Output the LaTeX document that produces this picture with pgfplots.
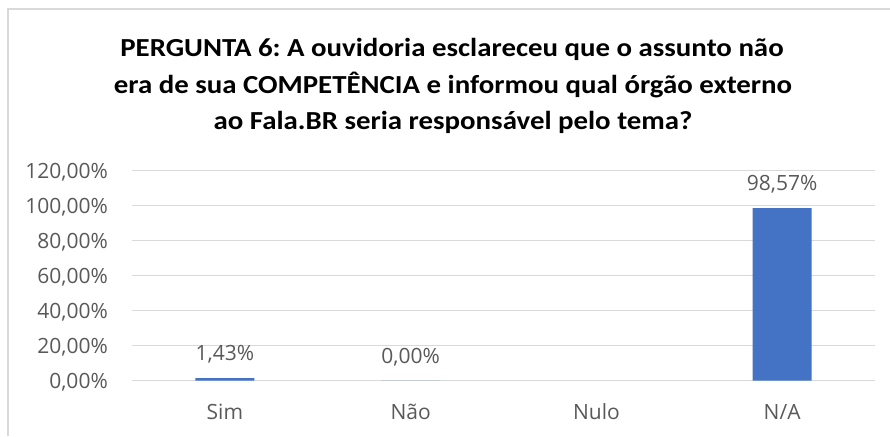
\documentclass[border=0pt]{standalone}
\usepackage{fontspec}
\setmainfont{Open Sans}
\newfontfamily\titlefont{Carlito}[FakeStretch=1.11]
\usepackage{pgfplots}
\pgfplotsset{compat=1.18}
\definecolor{barblue}{HTML}{4472C4}
\definecolor{gridgray}{HTML}{D9D9D9}
\definecolor{txtgray}{HTML}{595959}
\frenchspacing
\begin{document}
\begin{tikzpicture}[x=1pt,y=1pt]
\path[use as bounding box] (0,0) rectangle (890,436);
\draw[gridgray, line width=2pt] (8,0) -- (8,426.5) -- (891,426.5);
\node[anchor=base, font=\titlefont\fontsize{26}{30}\selectfont\bfseries, inner sep=0] at (452,379.3) {PERGUNTA 6: A ouvidoria esclareceu que o assunto não};
\node[anchor=base, font=\titlefont\fontsize{26}{30}\selectfont\bfseries, inner sep=0] at (453,342.7) {era de sua COMPETÊNCIA e informou qual órgão externo};
\node[anchor=base, font=\titlefont\fontsize{26}{30}\selectfont\bfseries, inner sep=0] at (453,306) {ao Fala.BR seria responsável pelo tema?};
\begin{axis}[
  at={(132pt,55.3pt)}, anchor=south west,
  scale only axis, width=743pt, height=210pt,
  xmin=-0.5, xmax=3.5, ymin=0, ymax=120,
  ytick={0,20,...,120},
  xtick={0,1,2,3},
  xticklabels={Sim,Não,Nulo,N/A},
  axis line style={draw=none},
  major tick length=0pt,
  ymajorgrids, grid style={gridgray, line width=1.3pt},
  /pgf/number format/assume math mode=true,
  yticklabel={\pgfmathprintnumber[fixed,fixed zerofill,precision=2,use comma]{\tick}\%},
  yticklabel style={anchor=base east, inner sep=0pt, xshift=-24pt, yshift=-7.6pt, font=\fontsize{21}{25}\selectfont, text=txtgray},
  xticklabel style={anchor=base, inner sep=0pt, yshift=-38.6pt, font=\fontsize{21}{25}\selectfont, text=txtgray},
  ybar, bar width=59pt,
  nodes near coords={\pgfmathprintnumber[fixed,fixed zerofill,precision=2,use comma]{\pgfplotspointmeta}\%},
  every node near coord/.append style={anchor=base, inner sep=0pt, yshift=17.7pt, font=\fontsize{21}{25}\selectfont, text=txtgray},
  clip=false,
]
\addplot[fill=barblue, draw=none] coordinates {(0,1.43) (1,0) (3,98.57)};
\end{axis}
\end{tikzpicture}
\end{document}
